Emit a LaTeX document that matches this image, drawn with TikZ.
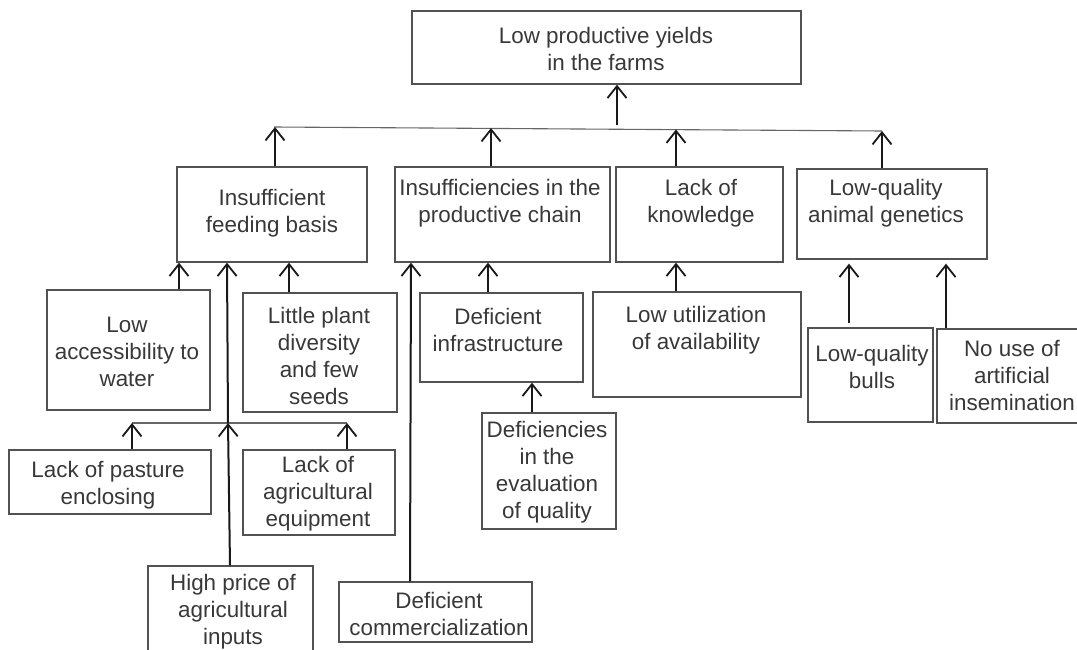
\documentclass[tikz,border=0pt]{standalone}
\usepackage{fontspec}
\setmainfont{Liberation Sans}
\usetikzlibrary{arrows.meta}
\tikzset{
  box/.style={draw=black!68, line width=1.3pt, fill=none, inner sep=0pt},
  txt/.style={align=center, inner sep=0pt, text=black!78, font=\fontsize{22.4}{27}\selectfont},
  arr/.style={draw=black!90, line width=2pt, -{Straight Barb[length=12pt,width=19pt,line width=1.8pt]}},
  plain/.style={draw=black!60, line width=1.1pt},
}
\newcommand{\bx}[5]{\path (#2,#3) coordinate (#1-nw) (#4,#5) coordinate (#1-se);
  \node[box, fit=(#1-nw)(#1-se)] (#1) {};}
\usetikzlibrary{fit}
\begin{document}
\begin{tikzpicture}[x=1pt,y=-1pt]
\useasboundingbox (0,0) rectangle (1077,650);
% boxes
\bx{top}{412}{11}{801}{84}
\bx{fb}{177}{167}{367}{262}
\bx{pc}{395}{167}{610}{262}
\bx{lk}{616}{167}{783}{262}
\bx{ag}{797}{169}{987}{259}
\bx{water}{47}{290}{210}{410}
\bx{seeds}{243}{293}{397}{412}
\bx{pasture}{9}{450}{211}{514}
\bx{equip}{243}{450}{395}{535}
\bx{price}{148}{566}{313}{662}
\bx{infra}{420}{293}{583}{382}
\bx{qual}{482}{413}{616}{529}
\bx{comm}{339}{582}{532}{642}
\bx{util}{593}{292}{801}{397}
\bx{bulls}{808}{328}{933}{422}
\bx{ai}{937}{329}{1085}{423}
% texts
\node[txt] (top-t) at (606,49) {Low productive yields\\in the farms};
\node[txt] (fb-t) at (272,213.5) {Insufficient\\feeding basis};
\node[txt] (pc-t) at (500,203.5) {Insufficiencies in the\\productive chain};
\node[txt] (lk-t) at (701,203.5) {Lack of\\knowledge};
\node[txt] (ag-t) at (886,203.5) {Low-quality\\animal genetics};
\node[txt] (water-t) at (127,352) {Low\\accessibility to\\water};
\node[txt] (seeds-t) at (319,356) {Little plant\\diversity\\and few\\seeds};
\node[txt] (pasture-t) at (108,485) {Lack of pasture\\enclosing};
\node[txt] (equip-t) at (318,494) {Lack of\\agricultural\\equipment};
\node[txt] (price-t) at (233,611.5) {High price of\\agricultural\\inputs};
\node[txt] (infra-t) at (498,330) {Deficient\\infrastructure};
\node[txt] (qual-t) at (547,472.5) {Deficiencies\\in the\\evaluation\\of quality};
\node[txt] (comm-t) at (439,613.5) {Deficient\\commercialization};
\node[txt] (util-t) at (696,330) {Low utilization\\of availability};
\node[txt] (bulls-t) at (872,366.5) {Low-quality\\bulls};
\node[txt] (ai-t) at (1012,375.5) {No use of\\artificial\\insemination};
% junction coordinates
\coordinate (hl) at (274,127);
\coordinate (hr) at (882,131);
\coordinate (topin) at (617,125);
\coordinate (jl) at (132,423);
\coordinate (jr) at (347,423);
\coordinate (jm) at (228,423);
% top level
\draw[plain] (hl) -- (hr);
\draw[arr] (topin) -- (top.south -| topin);
\draw[arr] (fb.north -| 275,0) -- (275,127);
\draw[arr] (pc.north -| 491,0) -- (491,128);
\draw[arr] (lk.north -| 676,0) -- (676,129.5);
\draw[arr] (ag.north -| hr) -- (hr);
% feeding basis
\draw[arr] (water.north -| 179,0) -- (fb.south -| 179,0);
\draw[arr] (seeds.north -| 289,0) -- (fb.south -| 289,0);
\draw[plain] (jl) -- (jr);
\draw[arr] (pasture.north -| jl) -- (jl);
\draw[arr] (equip.north -| jr) -- (jr);
\draw[arr] (price.north -| 230,0) -- (jm);
\draw[arr] (jm) -- (fb.south -| 227,0);
% productive chain
\draw[arr] (comm.north -| 410,0) -- (pc.south -| 411,0);
\draw[arr] (infra.north -| 488,0) -- (pc.south -| 488,0);
\draw[arr] (qual.north -| 532,0) -- (infra.south -| 532,0);
% knowledge
\draw[arr] (util.north -| 676,0) -- (lk.south -| 676,0);
% genetics
\draw[arr] (849,323) -- ([yshift=-4pt]ag.south -| 849,0);
\draw[arr] (ai.north -| 946,0) -- ([yshift=-4pt]ag.south -| 946,0);
\end{tikzpicture}
\end{document}
